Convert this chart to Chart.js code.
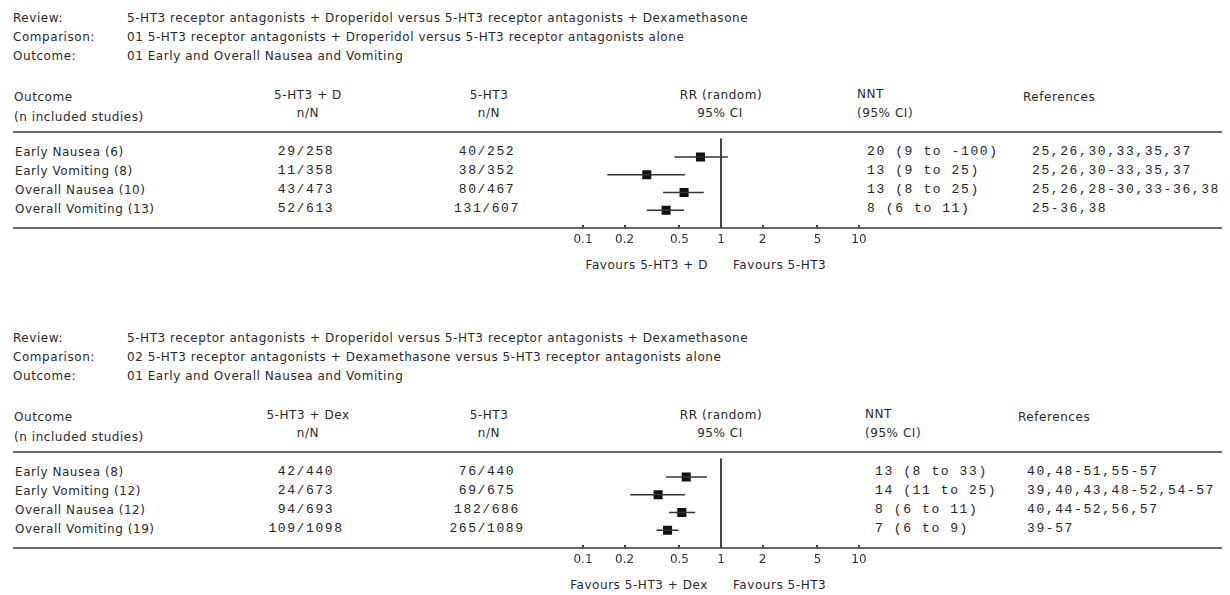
<!DOCTYPE html>
<html>
<head>
<meta charset="utf-8">
<script src="https://cdn.jsdelivr.net/npm/chart.js@4/dist/chart.umd.min.js"></script>
<style>
  body { margin:0; background:#fff; }
  #page { position:relative; width:1230px; height:595px; overflow:hidden; font-family:"DejaVu Sans", sans-serif; font-size:12px; color:#2a2a2a; }
  .t { position:absolute; white-space:nowrap; line-height:14px; height:14px; letter-spacing:0.55px; }
  .mono { font-family:"Liberation Mono", monospace; font-size:13px; letter-spacing:1.6px; color:#262626; }
  .rule { position:absolute; height:2px; background:#666; }
  canvas { position:absolute; }
</style>
</head>
<body>
<div id="page"></div>
<script>
// header text
var reviewText = "5-HT3 receptor antagonists + Droperidol versus 5-HT3 receptor antagonists + Dexamethasone";
var comparisons = ["01 5-HT3 receptor antagonists + Droperidol versus 5-HT3 receptor antagonists alone",
                   "02 5-HT3 receptor antagonists + Dexamethasone versus 5-HT3 receptor antagonists alone"];
var outcomeText = "01 Early and Overall Nausea and Vomiting";
var treatNames = ["5-HT3 + D", "5-HT3 + Dex"];

// panel 1: 5-HT3 + droperidol vs 5-HT3 alone
var outcomes1 = ["Early Nausea (6)", "Early Vomiting (8)", "Overall Nausea (10)", "Overall Vomiting (13)"];
var treat1 = ["29/258", "11/358", "43/473", "52/613"];
var ctrl1 = ["40/252", "38/352", "80/467", "131/607"];
var rr1 = [0.71, 0.29, 0.54, 0.40];
var lo1 = [0.46, 0.15, 0.38, 0.29];
var hi1 = [1.12, 0.55, 0.75, 0.54];
var nnt1 = ["20 (9 to -100)", "13 (9 to 25)", "13 (8 to 25)", "8 (6 to 11)"];
var refs1 = ["25,26,30,33,35,37", "25,26,30-33,35,37", "25,26,28-30,33-36,38", "25-36,38"];

// panel 2: 5-HT3 + dexamethasone vs 5-HT3 alone
var outcomes2 = ["Early Nausea (8)", "Early Vomiting (12)", "Overall Nausea (12)", "Overall Vomiting (19)"];
var treat2 = ["42/440", "24/673", "94/693", "109/1098"];
var ctrl2 = ["76/440", "69/675", "182/686", "265/1089"];
var rr2 = [0.56, 0.35, 0.52, 0.41];
var lo2 = [0.40, 0.22, 0.42, 0.34];
var hi2 = [0.79, 0.55, 0.65, 0.49];
var nnt2 = ["13 (8 to 33)", "14 (11 to 25)", "8 (6 to 11)", "7 (6 to 9)"];
var refs2 = ["40,48-51,55-57", "39,40,43,48-52,54-57", "40,44-52,56,57", "39-57"];

// RR axis
var tickValues = [0.1, 0.2, 0.5, 1, 2, 5, 10];
var tickLabels = ["0.1", "0.2", "0.5", "1", "2", "5", "10"];

var page = document.getElementById("page");

function txt(str, x, y, align, cls) {
  var d = document.createElement("div");
  d.className = "t" + (cls ? " " + cls : "");
  d.textContent = str;
  d.style.left = x + "px";
  d.style.top = (y - 7) + "px";
  if (align == "center") d.style.transform = "translateX(-50%)";
  if (align == "right") d.style.transform = "translateX(-100%)";
  page.appendChild(d);
}

function rule(x1, x2, y) {
  var d = document.createElement("div");
  d.className = "rule";
  d.style.left = x1 + "px";
  d.style.width = (x2 - x1) + "px";
  d.style.top = (y - 1) + "px";
  page.appendChild(d);
}

var tickMarks = {
  id: "tickMarks",
  afterDraw: function(chart) {
    var c = chart.ctx, sx = chart.scales.x, b = chart.chartArea.bottom;
    c.save();
    c.strokeStyle = "#444";
    c.lineWidth = 2;
    tickValues.forEach(function(v) {
      var px = Math.round(sx.getPixelForValue(v));
      c.beginPath();
      c.moveTo(px, b - 3);
      c.lineTo(px, b);
      c.stroke();
    });
    c.restore();
  }
};

function renderForest(id, top, rr, lo, hi) {
  var cv = document.createElement("canvas");
  cv.id = id;
  cv.width = 316;
  cv.height = 120;
  cv.style.left = "563px";
  cv.style.top = top + "px";
  page.appendChild(cv);

  var datasets = [];
  for (var i = 0; i < rr.length; i++) {
    datasets.push({
      type: "line",
      data: [{x: lo[i], y: i}, {x: hi[i], y: i}],
      borderColor: "#333",
      borderWidth: 1.5,
      pointRadius: 0,
      tension: 0
    });
  }
  datasets.push({
    type: "scatter",
    data: rr.map(function(v, i) { return {x: v, y: i}; }),
    pointStyle: "rect",
    pointRadius: 6.4,
    backgroundColor: "#111",
    borderWidth: 0
  });

  new Chart(cv.getContext("2d"), {
    type: "scatter",
    data: { datasets: datasets },
    options: {
      responsive: false,
      animation: false,
      layout: { padding: { left: 20, right: 20, top: 0, bottom: 0 } },
      plugins: { legend: { display: false }, tooltip: { enabled: false } },
      scales: {
        x: {
          type: "logarithmic",
          min: 0.1,
          max: 10,
          afterBuildTicks: function(s) { s.ticks = tickValues.map(function(v) { return {value: v}; }); },
          afterFit: function(s) { s.height = 24; },
          ticks: {
            autoSkip: false,
            maxRotation: 0,
            padding: 5,
            color: "#333",
            font: { family: "DejaVu Sans", size: 12 },
            callback: function(v, i) { return tickLabels[i]; }
          },
          grid: {
            drawTicks: false,
            lineWidth: 2,
            color: function(c) { return c.tick && c.tick.value == 1 ? "#444" : "rgba(0,0,0,0)"; }
          },
          border: { display: false }
        },
        y: { type: "linear", display: false, reverse: true, min: -1.05, max: 4 }
      }
    },
    plugins: [tickMarks]
  });
}

function renderPanel(dy, k, outcomes, treat, ctrl, rr, lo, hi, nnt, refs, nntX, refX) {
  txt("Review:", 13, 18 + dy);
  txt("Comparison:", 13, 37 + dy);
  txt("Outcome:", 13, 56 + dy);
  txt(reviewText, 127, 18 + dy);
  txt(comparisons[k], 127, 37 + dy);
  txt(outcomeText, 127, 56 + dy);

  txt("Outcome", 14, 97 + dy);
  txt("(n included studies)", 14, 117 + dy);
  txt(treatNames[k], 308, 95 + dy, "center");
  txt("n/N", 308, 113 + dy, "center");
  txt("5-HT3", 489, 95 + dy, "center");
  txt("n/N", 489, 113 + dy, "center");
  txt("RR (random)", 721, 95 + dy, "center");
  txt("95% CI", 720, 113 + dy, "center");
  txt("NNT", nntX - 10, 94 + dy);
  txt("(95% CI)", nntX - 10, 113 + dy);
  txt("References", refX - 9, 97 + dy);

  rule(13, 1222, 132 + dy);
  rule(13, 1222, 228 + dy);

  var rowY = [152, 171, 190, 209];
  for (var i = 0; i < outcomes.length; i++) {
    txt(outcomes[i], 15, rowY[i] + dy);
    txt(treat[i], 306, rowY[i] + dy, "center", "mono");
    txt(ctrl[i], 487, rowY[i] + dy, "center", "mono");
    txt(nnt[i], nntX, rowY[i] + dy, null, "mono");
    txt(refs[i], refX, rowY[i] + dy, null, "mono");
  }

  txt("Favours " + treatNames[k], 708, 265 + dy, "right");
  txt("Favours 5-HT3", 733, 265 + dy);

  renderForest("forest" + (k + 1), 132 + dy, rr, lo, hi);
}

renderPanel(0, 0, outcomes1, treat1, ctrl1, rr1, lo1, hi1, nnt1, refs1, 867, 1032);
renderPanel(320, 1, outcomes2, treat2, ctrl2, rr2, lo2, hi2, nnt2, refs2, 875, 1027);
</script>
</body>
</html>
